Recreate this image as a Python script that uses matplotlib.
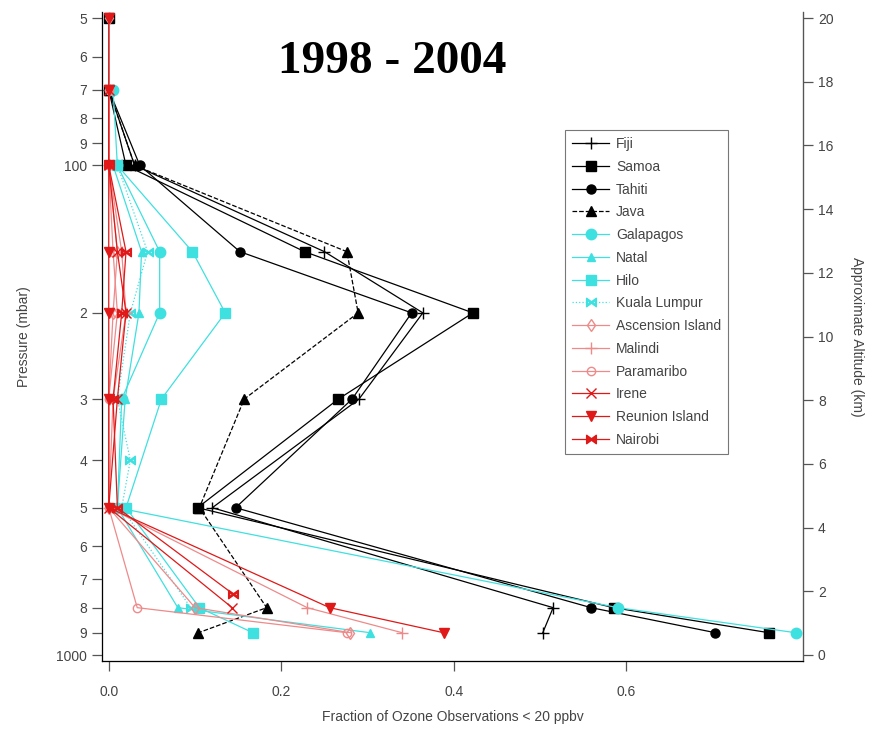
import numpy as np
import matplotlib.pyplot as plt

# pressure levels (mbar) and fraction of ozone obs < 20 ppbv for each station
fiji_p = [70, 100, 150, 200, 300, 500, 800, 900]
fiji_x = [0.0, 0.03, 0.25, 0.364, 0.29, 0.12, 0.515, 0.503]
samoa_p = [50, 70, 100, 150, 200, 300, 500, 800, 900]
samoa_x = [0.0, 0.0, 0.02, 0.227, 0.422, 0.266, 0.103, 0.585, 0.765]
tahiti_p = [70, 100, 150, 200, 300, 500, 800, 900]
tahiti_x = [0.0, 0.036, 0.152, 0.351, 0.282, 0.147, 0.559, 0.703]
java_p = [70, 100, 150, 200, 300, 500, 800, 900]
java_x = [0.0, 0.03, 0.276, 0.289, 0.157, 0.105, 0.183, 0.104]

galapagos_p = [70, 100, 150, 200, 300, 500, 800, 900]
galapagos_x = [0.005, 0.01, 0.059, 0.059, 0.015, 0.01, 0.59, 0.796]
natal_p = [100, 150, 200, 300, 500, 800, 900]
natal_x = [0.005, 0.038, 0.035, 0.019, 0.01, 0.08, 0.303]
hilo_p = [100, 150, 200, 300, 500, 800, 900]
hilo_x = [0.01, 0.097, 0.135, 0.061, 0.02, 0.105, 0.167]
kuala_p = [100, 150, 200, 300, 400, 500, 800]
kuala_x = [0.01, 0.045, 0.025, 0.01, 0.025, 0.015, 0.095]

ascension_p = [50, 70, 100, 150, 200, 300, 500, 800, 900]
ascension_x = [0.0, 0.0, 0.0, 0.01, 0.005, 0.0, 0.0, 0.10, 0.28]
malindi_p = [100, 150, 200, 300, 500, 800, 900]
malindi_x = [0.0, 0.015, 0.02, 0.005, 0.0, 0.23, 0.34]
paramaribo_p = [70, 100, 150, 200, 300, 500, 800, 900]
paramaribo_x = [0.0, 0.0, 0.005, 0.01, 0.0, 0.0, 0.033, 0.276]
irene_p = [70, 100, 150, 200, 300, 500, 800]
irene_x = [0.0, 0.0, 0.01, 0.02, 0.01, 0.0, 0.143]
reunion_p = [50, 70, 100, 150, 200, 300, 500, 800, 900]
reunion_x = [0.0, 0.0, 0.0, 0.0, 0.0, 0.0, 0.0, 0.256, 0.388]
nairobi_p = [100, 150, 200, 300, 500, 750]
nairobi_x = [0.0, 0.02, 0.015, 0.005, 0.01, 0.144]

p_ticks = [50, 60, 70, 80, 90, 100, 200, 300, 400, 500, 600, 700, 800, 900, 1000]
p_labels = ['5', '6', '7', '8', '9', '100', '2', '3', '4', '5', '6', '7', '8', '9', '1000']
x_ticks = [0.0, 0.2, 0.4, 0.6]
alt_ticks = list(range(0, 21, 2))

plt.rcParams['font.family'] = ['Liberation Sans', 'DejaVu Sans']

blk = 'black'
cyn = '#3fe0e0'
red = '#e01818'
pink = '#ee8a8a'

fig = plt.figure(figsize=(8.78, 7.29), dpi=100)
ax = fig.add_axes([0.116, 0.0933, 0.799, 0.8902])

lw = 0.9
series = [
    (fiji_x, fiji_p, blk, '-', '+', 9, blk, 'Fiji'),
    (samoa_x, samoa_p, blk, '-', 's', 6.5, blk, 'Samoa'),
    (tahiti_x, tahiti_p, blk, '-', 'o', 6.5, blk, 'Tahiti'),
    (java_x, java_p, blk, '--', '^', 6.5, blk, 'Java'),
    (galapagos_x, galapagos_p, cyn, '-', 'o', 7.5, cyn, 'Galapagos'),
    (natal_x, natal_p, cyn, '-', '^', 5.5, cyn, 'Natal'),
    (hilo_x, hilo_p, cyn, '-', 's', 7.5, cyn, 'Hilo'),
    (kuala_x, kuala_p, cyn, ':', '$\\bowtie$', 7, cyn, 'Kuala Lumpur'),
    (ascension_x, ascension_p, pink, '-', 'd', 6, 'none', 'Ascension Island'),
    (malindi_x, malindi_p, pink, '-', '+', 9, pink, 'Malindi'),
    (paramaribo_x, paramaribo_p, pink, '-', 'o', 6, 'none', 'Paramaribo'),
    (irene_x, irene_p, red, '-', 'x', 6.5, red, 'Irene'),
    (reunion_x, reunion_p, red, '-', 'v', 6.5, red, 'Reunion Island'),
    (nairobi_x, nairobi_p, red, '-', '$\\bowtie$', 7, red, 'Nairobi'),
]
for x, p, c, ls, m, ms, mfc, lab in series:
    ax.plot(x, p, color=c, ls=ls, lw=lw, marker=m, ms=ms, mfc=mfc, mec=c,
            mew=1.0, label=lab)

ax.set_yscale('log')
ax.set_ylim(1028, 48.6)
ax.set_xlim(-0.008, 0.805)
ax.set_yticks(p_ticks)
ax.set_yticklabels(p_labels)
ax.yaxis.set_minor_locator(plt.NullLocator())
ax.set_xticks(x_ticks)
ax.set_xticklabels(['0.0', '0.2', '0.4', '0.6'])

tc = '#444444'
for s in ['left', 'right', 'bottom']:
    ax.spines[s].set_color('#555555')
    ax.spines[s].set_linewidth(0.9)
ax.spines['top'].set_visible(False)
ax.tick_params(axis='both', direction='out', length=7, width=0.9, colors='#555555',
               labelcolor=tc, labelsize=10)
ax.tick_params(axis='x', pad=10)
ax.set_ylabel('Pressure (mbar)', fontsize=10, color=tc, labelpad=18)
ax.set_xlabel('Fraction of Ozone Observations < 20 ppbv', fontsize=10, color=tc,
              labelpad=8)

ax2 = ax.twinx()
ax2.set_ylim(-0.19, 20.19)
ax2.set_yticks(alt_ticks)
ax2.spines['top'].set_visible(False)
ax2.spines['right'].set_color('#555555')
ax2.tick_params(axis='y', direction='out', length=7, width=0.9, colors='#555555',
                labelcolor=tc, labelsize=10)
ax2.set_ylabel('Approximate Altitude (km)', fontsize=10, color=tc, rotation=270,
               labelpad=22)

leg = ax.legend(loc='upper left', bbox_to_anchor=(0.66, 0.818), fontsize=10,
                frameon=True, fancybox=False, edgecolor='#555555', labelspacing=0.63,
                handlelength=2.7, handletextpad=0.5, borderpad=0.5,
                borderaxespad=0)
leg.get_frame().set_linewidth(0.8)
for t in leg.get_texts():
    t.set_color(tc)

fig.text(0.447, 0.915, '1998 - 2004', fontsize=34, fontweight='bold',
         family='Liberation Serif', ha='center', va='center')

fig.savefig('out.png', dpi=100)
